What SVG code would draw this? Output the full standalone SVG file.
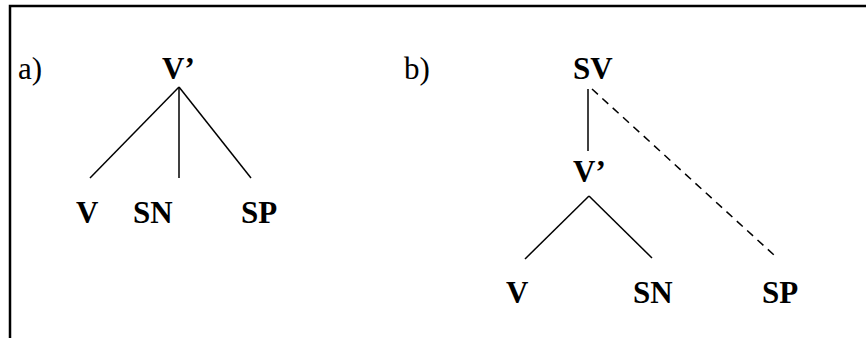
<svg xmlns="http://www.w3.org/2000/svg" width="866" height="338" viewBox="0 0 866 338">
<style>
.lbl{font-family:"Liberation Serif","Times New Roman",serif;font-size:31px;fill:#000}
.b{font-weight:bold}
.ln{stroke:#000;stroke-width:1.5;fill:none}
.dash{stroke-dasharray:8 6}
.frame{stroke:#000;stroke-width:2.5;fill:none}
</style>
<rect width="866" height="338" fill="#fff"/>
<path class="frame" d="M10,338 V6 H866"/>
<text class="lbl" x="18" y="79">a)</text>
<text class="lbl" x="404" y="79">b)</text>
<g id="connectors">
<line class="ln" x1="179" y1="87" x2="90" y2="178"/>
<line class="ln" x1="179" y1="87" x2="179" y2="178"/>
<line class="ln" x1="179" y1="87" x2="251" y2="178"/>
<line class="ln" x1="588" y1="89" x2="588" y2="151"/>
<line class="ln dash" x1="592" y1="89" x2="774" y2="255"/>
<line class="ln" x1="589" y1="196" x2="525" y2="259"/>
<line class="ln" x1="589" y1="196" x2="652" y2="258"/>
</g>
<g id="a-Vbar"><text class="lbl b" x="162" y="79">V’</text></g>
<g id="a-V"><text class="lbl b" x="76" y="223">V</text></g>
<g id="a-SN"><text class="lbl b" x="133" y="223">SN</text></g>
<g id="a-SP"><text class="lbl b" x="241" y="223">SP</text></g>
<g id="b-SV"><text class="lbl b" x="573" y="79">SV</text></g>
<g id="b-Vbar"><text class="lbl b" x="573" y="182">V’</text></g>
<g id="b-V"><text class="lbl b" x="506" y="303">V</text></g>
<g id="b-SN"><text class="lbl b" x="633" y="303">SN</text></g>
<g id="b-SP"><text class="lbl b" x="762" y="303">SP</text></g>
</svg>
